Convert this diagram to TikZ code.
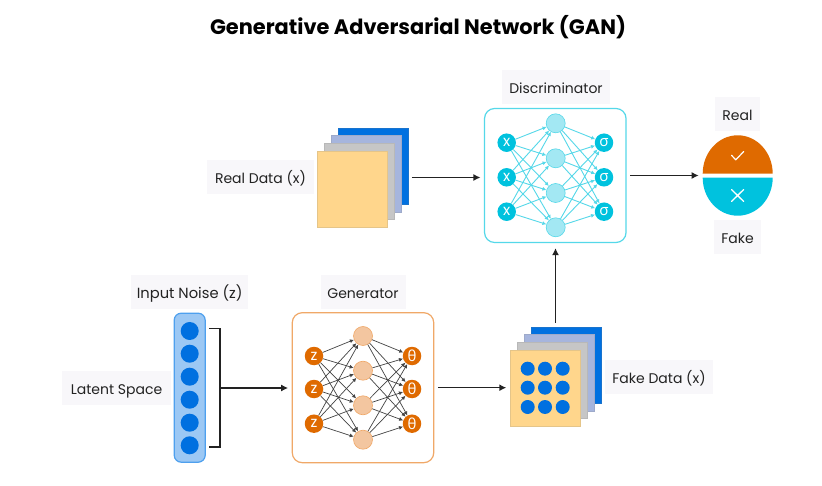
\documentclass[tikz,border=0pt]{standalone}
\usepackage{fontspec}
\setmainfont{Poppins}
\newfontfamily\greekfont{Open Sans}
\usetikzlibrary{arrows.meta,calc}
\definecolor{ink}{HTML}{222222}
\definecolor{labelbg}{HTML}{F8F7FA}
\definecolor{cyanD}{HTML}{00C2DE}
\definecolor{cyanL}{HTML}{A3E8F3}
\definecolor{cyanB}{HTML}{55D8E9}
\definecolor{orangeD}{HTML}{DF6A00}
\definecolor{orangeL}{HTML}{F3C6A0}
\definecolor{orangeB}{HTML}{F0A868}
\definecolor{blueD}{HTML}{0070E0}
\definecolor{lav}{HTML}{A6B5DD}
\definecolor{greyS}{HTML}{C6C6C6}
\definecolor{yel}{HTML}{FFD68C}
\definecolor{barfill}{HTML}{9CC8F4}
\definecolor{barline}{HTML}{4EA0EE}
\tikzset{
  x=1pt,y=-1pt,
  lbl/.style={fill=labelbg,text=ink,font=\fontsize{14}{16}\selectfont,inner sep=0pt,minimum height=34pt,text height=13pt,text depth=0pt},
  flow/.style={draw=ink,line width=1.4pt,-{Latex[length=7pt,width=7pt]}},
  sheet/.style={rectangle,minimum width=70pt,minimum height=76.5pt,inner sep=0pt,draw=#1!80!gray,line width=.4pt,fill=#1},
  ghost/.style={rectangle,inner sep=0pt,outer sep=0pt},
  netbox/.style={rectangle,rounded corners=10pt,fill=white,line width=1.2pt,inner sep=0pt,minimum width=141.5pt},
  io/.style={circle,inner sep=0pt,minimum size=18.5pt,fill=#1,text=white,font=\fontsize{15}{15}\selectfont},
  hid/.style={circle,inner sep=0pt,minimum size=19pt},
  cyanH/.style={hid,fill=cyanL,draw=cyanB,line width=.6pt},
  orangeH/.style={hid,fill=orangeL,draw=orangeB,line width=.6pt},
  edgeC/.style={draw=cyanB,line width=.9pt,-{Latex[length=4pt,width=4pt]}},
  edgeK/.style={draw=ink!85,line width=.7pt,-{Latex[length=4pt,width=4pt]}},
  dotB/.style={circle,fill=blueD,inner sep=0pt,minimum size=#1},
}
\begin{document}
\begin{tikzpicture}
\useasboundingbox (0,0) rectangle (822,486);
\fill[white] (0,0) rectangle (822,486);
% title
\node[font=\bfseries\fontsize{20.9}{24}\selectfont,text=black,inner sep=0pt] (title) at (418,27.5) {Generative Adversarial Network (GAN)};
% labels
\node[lbl,minimum width=108pt] (ldisc) at (556,87) {Discriminator};
\node[lbl,minimum width=45pt] (lreal) at (737.5,114.5) {Real};
\node[lbl,minimum width=47pt] (lfake) at (737.5,236.7) {Fake};
\node[lbl,minimum width=107pt] (lrdata) at (260.5,177.5) {Real Data (x)};
\node[lbl,minimum width=108pt] (lfdata) at (659,376.5) {Fake Data (x)};
\node[lbl,minimum width=117pt,font=\fontsize{14.7}{16}\selectfont] (lnoise) at (189.7,292) {Input Noise (z)};
\node[lbl,minimum width=85pt] (lgen) at (363,292) {Generator};
\node[lbl,minimum width=109pt] (llat) at (116.5,388) {Latent Space};
% real data stack
\node[sheet=blueD] (r1) at (373.5,166) {};
\node[sheet=lav] (r2) at (366.5,173.7) {};
\node[sheet=greyS] (r3) at (359.5,181.3) {};
\node[sheet=yel] (r4) at (352.5,189) {};
\node[ghost,minimum width=91pt,minimum height=99.6pt] (rstack) at (362.8,177.5) {};
% fake data stack
\node[sheet=blueD] (f1) at (566,365) {};
\node[sheet=lav] (f2) at (559,372.7) {};
\node[sheet=greyS] (f3) at (552,380.3) {};
\node[sheet=yel] (f4) at (545,388) {};
\node[ghost,minimum width=91pt,minimum height=99.6pt] (fstack) at (555.5,376.5) {};
\foreach \c/\px in {a/527.7,b/545,c/562.7}
  \foreach \r/\py in {1/368.7,2/387.7,3/407}
    \node[dotB=14pt] (fd\c\r) at (\px,\py) {};
% discriminator
\node[netbox,draw=cyanB,minimum height=134pt] (disc) at (555.3,175.5) {};
\foreach \i/\py in {1/142.7,2/177.3,3/211.7} {
  \node[io=cyanD] (di\i) at (506.7,\py) {x};
  \node[io=cyanD] (do\i) at (604,\py) {{\greekfont σ}};
}
\foreach \j/\py in {1/123.3,2/158.3,3/193,4/227.3}
  \node[cyanH] (dh\j) at (555.7,\py) {};
\foreach \i in {1,2,3} \foreach \j in {1,2,3,4} {
  \draw[edgeC] (di\i) -- (dh\j);
  \draw[edgeC] (dh\j) -- (do\i);
}
% generator
\node[netbox,draw=orangeB,minimum height=150pt] (gen) at (363,387.7) {};
\foreach \i/\py in {1/356,2/389,3/423.7} {
  \node[io=orangeD] (gi\i) at (314,\py) {z};
  \node[io=orangeD] (go\i) at (412,\py) {{\greekfont θ}};
}
\foreach \j/\py in {1/336,2/370.7,3/405.3,4/439.7}
  \node[orangeH] (gh\j) at (363,\py) {};
\foreach \i in {1,2,3} \foreach \j in {1,2,3,4} {
  \draw[edgeK] (gi\i) -- (gh\j);
  \draw[edgeK] (gh\j) -- (go\i);
}
% noise bar
\node[rectangle,rounded corners=7pt,fill=barfill,draw=barline,line width=1.2pt,minimum width=31pt,minimum height=149pt,inner sep=0pt] (bar) at (189.7,387.7) {};
\foreach \k/\py in {1/331,2/353.7,3/376.7,4/399.7,5/422.7,6/445.3}
  \node[dotB=18pt] (bd\k) at (189.7,\py) {};
% bracket
\coordinate (brk) at (220,388);
\draw[ink,line width=1.2pt] (209,328.3) -| (brk) |- (209,447);
% result disc
\node[ghost,minimum width=70pt,minimum height=80pt] (result) at (737.7,175.5) {};
\fill[orangeD] (702.7,173.7) arc[start angle=180,end angle=0,x radius=35,y radius=-38.4] -- cycle;
\fill[cyanD] (702.7,177.7) arc[start angle=180,end angle=360,x radius=35,y radius=-38] -- cycle;
\draw[white,line width=1.2pt,line cap=round,line join=round] (731.5,155.3) -- (735.8,159.8) -- (743.7,151.5);
\draw[white,line width=1.3pt,line cap=round] (731.5,189.5) -- (743.7,201.5) (743.7,189.5) -- (731.5,201.5);
% connectors
\draw[flow,shorten <=3.5pt,shorten >=3.5pt] (rstack.east) -- (rstack.east -| disc.west);
\draw[flow,shorten <=3.5pt,shorten >=4pt] (disc.east) -- (result.west);
\draw[flow,shorten <=4pt,shorten >=5pt] (fstack.north) -- (disc.south -| fstack.north);
\draw[flow,shorten >=3.5pt] (brk) -- (gen.west |- brk);
\draw[flow,shorten <=3.5pt,shorten >=3.5pt] (gen.east) -- (gen.east -| f4.west);
\end{tikzpicture}
\end{document}
